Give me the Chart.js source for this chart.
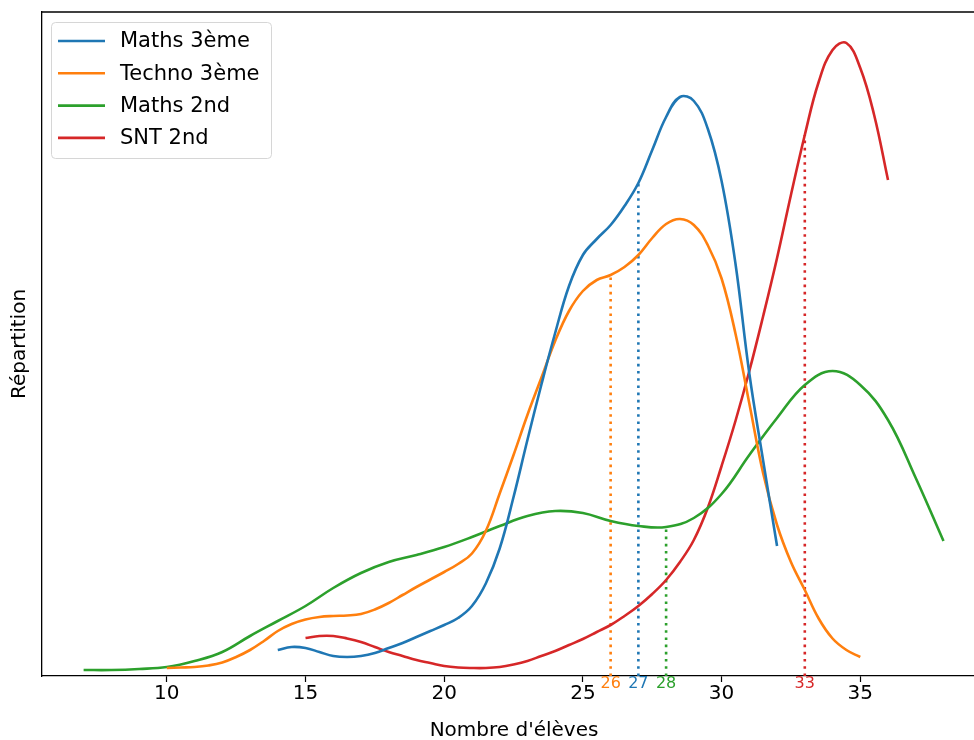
<!DOCTYPE html>
<html>
<head>
<meta charset="utf-8">
<script src="https://cdn.jsdelivr.net/npm/chart.js@4/dist/chart.umd.min.js"></script>
<style>
  body { margin: 0; background: #fff; }
</style>
</head>
<body>
<canvas id="chart" width="974" height="740"></canvas>
<script>
// Estimated densities (arbitrary unit)
const xMaths3 = [14, 14.5, 15, 15.5, 16, 16.5, 17, 17.5, 18, 18.5, 19, 19.5, 20, 20.5, 21, 21.5, 22, 22.5, 23, 23.5, 24, 24.5, 25, 25.5, 26, 26.5, 27, 27.5, 28, 28.5, 29, 29.5, 30, 30.5, 31, 31.5, 32];
const yMaths3 = [0.52, 0.58, 0.56, 0.48, 0.40, 0.38, 0.40, 0.46, 0.56, 0.66, 0.78, 0.90, 1.02, 1.16, 1.40, 1.85, 2.55, 3.58, 4.72, 5.82, 6.86, 7.80, 8.42, 8.74, 9.02, 9.40, 9.86, 10.52, 11.18, 11.58, 11.50, 10.95, 9.90, 8.25, 6.05, 4.30, 2.60];

const xTechno3 = [10, 10.5, 11, 11.5, 12, 12.5, 13, 13.5, 14, 14.5, 15, 15.5, 16, 16.5, 17, 17.5, 18, 18.5, 19, 19.5, 20, 20.5, 21, 21.5, 22, 22.5, 23, 23.5, 24, 24.5, 25, 25.5, 26, 26.5, 27, 27.5, 28, 28.5, 29, 29.5, 30, 30.5, 31, 31.5, 32, 32.5, 33, 33.5, 34, 34.5, 35];
const yTechno3 = [0.16, 0.17, 0.18, 0.21, 0.27, 0.38, 0.52, 0.70, 0.90, 1.04, 1.13, 1.18, 1.20, 1.21, 1.24, 1.33, 1.46, 1.62, 1.78, 1.93, 2.08, 2.24, 2.45, 2.90, 3.65, 4.42, 5.22, 5.96, 6.70, 7.30, 7.70, 7.92, 8.02, 8.18, 8.42, 8.76, 9.04, 9.14, 9.02, 8.62, 7.95, 6.85, 5.45, 4.05, 3.02, 2.28, 1.72, 1.15, 0.75, 0.52, 0.38];

const xMaths2 = [7, 8, 9, 10, 11, 12, 13, 14, 15, 16, 17, 18, 19, 20, 21, 22, 23, 24, 25, 26, 27, 28, 29, 30, 31, 32, 33, 34, 35, 36, 37, 38];
const yMaths2 = [0.12, 0.12, 0.14, 0.18, 0.30, 0.48, 0.80, 1.10, 1.40, 1.76, 2.06, 2.28, 2.42, 2.58, 2.78, 3.00, 3.20, 3.30, 3.26, 3.10, 3.00, 2.98, 3.16, 3.64, 4.42, 5.16, 5.82, 6.10, 5.82, 5.12, 3.96, 2.70];

const xSnt2 = [15, 15.5, 16, 16.5, 17, 17.5, 18, 18.5, 19, 19.5, 20, 20.5, 21, 21.5, 22, 22.5, 23, 23.5, 24, 24.5, 25, 25.5, 26, 26.5, 27, 27.5, 28, 28.5, 29, 29.5, 30, 30.5, 31, 31.5, 32, 32.5, 33, 33.5, 34, 34.5, 35, 35.5, 36];
const ySnt2 = [0.76, 0.80, 0.80, 0.75, 0.68, 0.58, 0.48, 0.40, 0.32, 0.26, 0.20, 0.17, 0.16, 0.16, 0.18, 0.23, 0.30, 0.40, 0.50, 0.62, 0.74, 0.88, 1.02, 1.20, 1.40, 1.64, 1.92, 2.28, 2.72, 3.36, 4.20, 5.10, 6.10, 7.20, 8.36, 9.62, 10.82, 11.88, 12.52, 12.66, 12.16, 11.22, 9.92];

const labels = ['Maths 3ème', 'Techno 3ème', 'Maths 2nd', 'SNT 2nd'];
const colors = ['#1f77b4', '#ff7f0e', '#2ca02c', '#d62728'];
const medians = [27, 26, 28, 33];
const xTicks = [10, 15, 20, 25, 30, 35];

const series = [[xMaths3, yMaths3], [xTechno3, yTechno3], [xMaths2, yMaths2], [xSnt2, ySnt2]];

Chart.defaults.font.family = "'DejaVu Sans', sans-serif";
Chart.defaults.color = '#000';

const toPoints = (xs, ys) => xs.map((x, i) => ({ x: x, y: ys[i] }));

const curves = series.map((s, i) => ({
  label: labels[i],
  data: toPoints(s[0], s[1]),
  borderColor: colors[i],
  borderWidth: 2.6,
  pointRadius: 0,
  tension: 0.4,
  fill: false
}));

// dotted line from the axis up to the curve at the median
const medianLines = series.map((s, i) => ({
  label: 'med' + i,
  data: [{ x: medians[i], y: 0 }, { x: medians[i], y: s[1][s[0].indexOf(medians[i])] }],
  borderColor: colors[i],
  borderWidth: 2.6,
  borderDash: [2.6, 4.6],
  pointRadius: 0,
  fill: false
}));

const decorPlugin = {
  id: 'decor',
  afterDraw(chart) {
    const ctx = chart.ctx;
    const a = chart.chartArea;
    const xs = chart.scales.x;
    ctx.save();
    // top spine
    ctx.strokeStyle = '#000';
    ctx.lineWidth = 1.3;
    ctx.beginPath();
    ctx.moveTo(a.left, a.top);
    ctx.lineTo(a.right, a.top);
    ctx.stroke();

    // median labels under the axis
    ctx.font = "16px 'DejaVu Sans'";
    ctx.textAlign = 'center';
    ctx.textBaseline = 'middle';
    medians.forEach((m, i) => {
      ctx.fillStyle = colors[i];
      ctx.fillText(String(m), xs.getPixelForValue(m), 684);
    });

    // axis titles
    ctx.fillStyle = '#000';
    ctx.font = "20px 'DejaVu Sans'";
    ctx.fillText("Nombre d'élèves", (a.left + 986) / 2, 731);
    ctx.translate(20, (a.top + a.bottom) / 2);
    ctx.rotate(-Math.PI / 2);
    ctx.fillText('Répartition', 0, 0);
    ctx.restore();

    // legend box
    ctx.save();
    const bx = 51, by = 22, bw = 220, bh = 136;
    ctx.beginPath();
    ctx.roundRect(bx + 0.5, by + 0.5, bw, bh, 4);
    ctx.fillStyle = 'rgba(255,255,255,0.8)';
    ctx.fill();
    ctx.strokeStyle = '#d6d6d6';
    ctx.lineWidth = 1;
    ctx.stroke();
    ctx.font = "21px 'DejaVu Sans'";
    ctx.textAlign = 'left';
    ctx.textBaseline = 'middle';
    labels.forEach((lab, i) => {
      const y = 41 + i * 32.3;
      ctx.strokeStyle = colors[i];
      ctx.lineWidth = 2.6;
      ctx.beginPath();
      ctx.moveTo(58, y);
      ctx.lineTo(105, y);
      ctx.stroke();
      ctx.fillStyle = '#000';
      ctx.fillText(lab, 120, y + 1);
    });
    ctx.restore();
  }
};

new Chart(document.getElementById('chart'), {
  type: 'line',
  data: { datasets: curves.concat(medianLines) },
  options: {
    responsive: false,
    animation: false,
    layout: { padding: { top: 12, left: 0, right: 0, bottom: 0 } },
    plugins: {
      legend: { display: false },
      tooltip: { enabled: false }
    },
    scales: {
      x: {
        type: 'linear',
        min: 5.5,
        max: 39.1,
        afterBuildTicks: s => { s.ticks = xTicks.map(v => ({ value: v })); },
        afterFit: s => { s.height = 64; },
        grid: { drawOnChartArea: false, drawTicks: true, tickLength: 6, tickColor: '#000', tickWidth: 1.2 },
        border: { color: '#000', width: 1.3 },
        ticks: { font: { size: 20 }, color: '#000', padding: 0, maxRotation: 0 }
      },
      y: {
        type: 'linear',
        min: 0,
        max: 13.28,
        afterFit: s => { s.width = 42; },
        grid: { display: false },
        border: { color: '#000', width: 1.3 },
        ticks: { display: false }
      }
    }
  },
  plugins: [decorPlugin]
});
</script>
</body>
</html>
